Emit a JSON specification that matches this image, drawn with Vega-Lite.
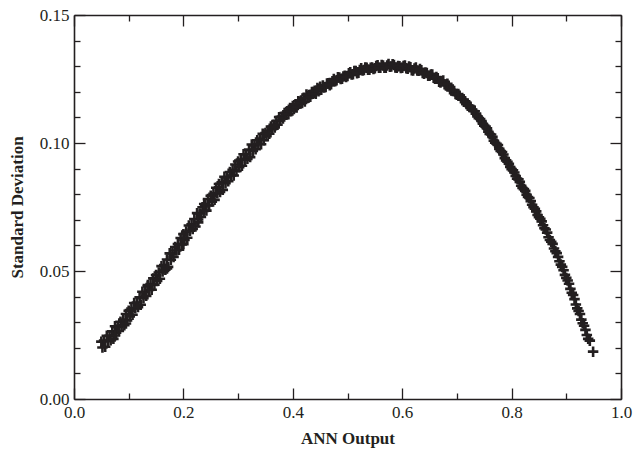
{
 "$schema": "https://vega.github.io/schema/vega-lite/v6.json",
 "width": 547, "height": 384,
 "autosize": {"type": "none"},
 "padding": {"left": 74, "top": 15, "right": 12, "bottom": 50},
 "background": "white",
 "config": {"view": {"stroke": null}, "axis": {"domainColor": "#231f20", "domainWidth": 1.6, "tickColor": "#231f20", "tickWidth": 1.3, "labelFont": "Liberation Serif", "labelFontSize": 17, "labelColor": "#231f20", "titleFont": "Liberation Serif", "titleFontSize": 17, "titleFontWeight": "bold", "titleColor": "#231f20", "grid": false, "labelOverlap": false, "labelFlush": false}},
 "data": {"values": [
{"x":0.050,"y":0.0224},{"x":0.052,"y":0.0201},{"x":0.055,"y":0.0228},{"x":0.057,"y":0.0204},{"x":0.060,"y":0.0247},{"x":0.062,"y":0.0226},{"x":0.065,"y":0.0247},{"x":0.067,"y":0.0229},{"x":0.070,"y":0.0264},{"x":0.072,"y":0.0235},{"x":0.075,"y":0.0284},{"x":0.077,"y":0.0259},{"x":0.080,"y":0.0280},{"x":0.082,"y":0.0266},{"x":0.085,"y":0.0302},{"x":0.087,"y":0.0288},{"x":0.090,"y":0.0310},{"x":0.092,"y":0.0288},{"x":0.095,"y":0.0332},{"x":0.097,"y":0.0307},
{"x":0.100,"y":0.0345},{"x":0.102,"y":0.0322},{"x":0.105,"y":0.0353},{"x":0.107,"y":0.0329},{"x":0.110,"y":0.0375},{"x":0.112,"y":0.0354},{"x":0.115,"y":0.0377},{"x":0.117,"y":0.0359},{"x":0.120,"y":0.0397},{"x":0.122,"y":0.0368},{"x":0.125,"y":0.0419},{"x":0.127,"y":0.0394},{"x":0.130,"y":0.0417},{"x":0.132,"y":0.0403},{"x":0.135,"y":0.0440},{"x":0.137,"y":0.0426},{"x":0.140,"y":0.0449},{"x":0.142,"y":0.0427},{"x":0.145,"y":0.0471},{"x":0.147,"y":0.0446},
{"x":0.150,"y":0.0484},{"x":0.152,"y":0.0461},{"x":0.155,"y":0.0494},{"x":0.157,"y":0.0470},{"x":0.160,"y":0.0519},{"x":0.162,"y":0.0498},{"x":0.165,"y":0.0523},{"x":0.167,"y":0.0505},{"x":0.170,"y":0.0545},{"x":0.172,"y":0.0516},{"x":0.175,"y":0.0569},{"x":0.177,"y":0.0544},{"x":0.180,"y":0.0569},{"x":0.182,"y":0.0555},{"x":0.185,"y":0.0594},{"x":0.187,"y":0.0580},{"x":0.190,"y":0.0605},{"x":0.192,"y":0.0583},{"x":0.195,"y":0.0629},{"x":0.197,"y":0.0604},
{"x":0.200,"y":0.0644},{"x":0.202,"y":0.0621},{"x":0.205,"y":0.0654},{"x":0.207,"y":0.0630},{"x":0.210,"y":0.0678},{"x":0.212,"y":0.0657},{"x":0.215,"y":0.0682},{"x":0.217,"y":0.0664},{"x":0.220,"y":0.0703},{"x":0.222,"y":0.0674},{"x":0.225,"y":0.0726},{"x":0.227,"y":0.0701},{"x":0.230,"y":0.0725},{"x":0.232,"y":0.0711},{"x":0.235,"y":0.0749},{"x":0.237,"y":0.0735},{"x":0.240,"y":0.0758},{"x":0.242,"y":0.0736},{"x":0.245,"y":0.0781},{"x":0.247,"y":0.0756},
{"x":0.250,"y":0.0794},{"x":0.252,"y":0.0771},{"x":0.255,"y":0.0802},{"x":0.257,"y":0.0778},{"x":0.260,"y":0.0825},{"x":0.262,"y":0.0804},{"x":0.265,"y":0.0827},{"x":0.267,"y":0.0809},{"x":0.270,"y":0.0846},{"x":0.272,"y":0.0817},{"x":0.275,"y":0.0868},{"x":0.277,"y":0.0843},{"x":0.280,"y":0.0865},{"x":0.282,"y":0.0851},{"x":0.285,"y":0.0887},{"x":0.287,"y":0.0873},{"x":0.290,"y":0.0895},{"x":0.292,"y":0.0873},{"x":0.295,"y":0.0916},{"x":0.297,"y":0.0891},
{"x":0.300,"y":0.0928},{"x":0.302,"y":0.0905},{"x":0.305,"y":0.0935},{"x":0.307,"y":0.0911},{"x":0.310,"y":0.0956},{"x":0.312,"y":0.0935},{"x":0.315,"y":0.0956},{"x":0.317,"y":0.0938},{"x":0.320,"y":0.0974},{"x":0.322,"y":0.0945},{"x":0.325,"y":0.0994},{"x":0.327,"y":0.0969},{"x":0.330,"y":0.0990},{"x":0.332,"y":0.0976},{"x":0.335,"y":0.1011},{"x":0.337,"y":0.0997},{"x":0.340,"y":0.1017},{"x":0.342,"y":0.0995},{"x":0.345,"y":0.1036},{"x":0.347,"y":0.1011},
{"x":0.350,"y":0.1039},{"x":0.352,"y":0.1027},{"x":0.355,"y":0.1048},{"x":0.357,"y":0.1036},{"x":0.360,"y":0.1064},{"x":0.362,"y":0.1054},{"x":0.365,"y":0.1071},{"x":0.367,"y":0.1061},{"x":0.370,"y":0.1086},{"x":0.372,"y":0.1071},{"x":0.375,"y":0.1101},{"x":0.377,"y":0.1088},{"x":0.380,"y":0.1103},{"x":0.382,"y":0.1096},{"x":0.385,"y":0.1117},{"x":0.387,"y":0.1110},{"x":0.390,"y":0.1124},{"x":0.392,"y":0.1112},{"x":0.395,"y":0.1137},{"x":0.397,"y":0.1124},
{"x":0.400,"y":0.1145},{"x":0.402,"y":0.1133},{"x":0.405,"y":0.1151},{"x":0.407,"y":0.1139},{"x":0.410,"y":0.1163},{"x":0.412,"y":0.1153},{"x":0.415,"y":0.1166},{"x":0.417,"y":0.1156},{"x":0.420,"y":0.1177},{"x":0.422,"y":0.1162},{"x":0.425,"y":0.1189},{"x":0.427,"y":0.1176},{"x":0.430,"y":0.1188},{"x":0.432,"y":0.1181},{"x":0.435,"y":0.1199},{"x":0.437,"y":0.1192},{"x":0.440,"y":0.1204},{"x":0.442,"y":0.1192},{"x":0.445,"y":0.1215},{"x":0.447,"y":0.1202},{"x":0.450,"y":0.1220},{"x":0.452,"y":0.1208},
{"x":0.455,"y":0.1225},{"x":0.460,"y":0.1219},{"x":0.465,"y":0.1233},{"x":0.470,"y":0.1229},{"x":0.475,"y":0.1250},{"x":0.480,"y":0.1245},{"x":0.485,"y":0.1256},{"x":0.490,"y":0.1251},{"x":0.495,"y":0.1263},{"x":0.500,"y":0.1262},
{"x":0.505,"y":0.1276},{"x":0.510,"y":0.1269},{"x":0.515,"y":0.1281},{"x":0.520,"y":0.1274},{"x":0.525,"y":0.1292},{"x":0.530,"y":0.1285},{"x":0.535,"y":0.1294},{"x":0.540,"y":0.1286},{"x":0.545,"y":0.1295},{"x":0.550,"y":0.1292},
{"x":0.555,"y":0.1304},{"x":0.560,"y":0.1294},{"x":0.565,"y":0.1303},{"x":0.570,"y":0.1294},{"x":0.575,"y":0.1309},{"x":0.580,"y":0.1299},{"x":0.585,"y":0.1305},{"x":0.590,"y":0.1294},{"x":0.595,"y":0.1300},{"x":0.600,"y":0.1294},
{"x":0.605,"y":0.1303},{"x":0.610,"y":0.1290},{"x":0.615,"y":0.1296},{"x":0.620,"y":0.1283},{"x":0.625,"y":0.1295},{"x":0.630,"y":0.1282},{"x":0.635,"y":0.1284},{"x":0.640,"y":0.1270},{"x":0.645,"y":0.1273},{"x":0.650,"y":0.1263},
{"x":0.655,"y":0.1268},{"x":0.660,"y":0.1251},{"x":0.665,"y":0.1253},{"x":0.670,"y":0.1236},{"x":0.675,"y":0.1244},{"x":0.680,"y":0.1226},{"x":0.685,"y":0.1224},{"x":0.690,"y":0.1205},{"x":0.695,"y":0.1203},{"x":0.700,"y":0.1188},
{"x":0.705,"y":0.1185},{"x":0.710,"y":0.1169},{"x":0.715,"y":0.1163},{"x":0.720,"y":0.1146},{"x":0.725,"y":0.1142},{"x":0.730,"y":0.1125},{"x":0.735,"y":0.1115},{"x":0.740,"y":0.1097},{"x":0.745,"y":0.1086},{"x":0.750,"y":0.1068},
{"x":0.755,"y":0.1057},{"x":0.760,"y":0.1035},{"x":0.765,"y":0.1024},{"x":0.770,"y":0.1001},{"x":0.775,"y":0.0992},{"x":0.780,"y":0.0969},{"x":0.785,"y":0.0955},{"x":0.790,"y":0.0932},{"x":0.795,"y":0.0919},{"x":0.800,"y":0.0898},
{"x":0.805,"y":0.0885},{"x":0.810,"y":0.0861},{"x":0.815,"y":0.0848},{"x":0.820,"y":0.0824},{"x":0.825,"y":0.0813},{"x":0.830,"y":0.0789},{"x":0.835,"y":0.0773},{"x":0.840,"y":0.0749},{"x":0.845,"y":0.0733},{"x":0.850,"y":0.0710},
{"x":0.855,"y":0.0694},{"x":0.860,"y":0.0667},{"x":0.865,"y":0.0650},{"x":0.870,"y":0.0621},{"x":0.875,"y":0.0606},{"x":0.880,"y":0.0577},{"x":0.885,"y":0.0555},{"x":0.890,"y":0.0525},{"x":0.895,"y":0.0503},{"x":0.900,"y":0.0473},
{"x":0.905,"y":0.0450},{"x":0.910,"y":0.0415},{"x":0.915,"y":0.0390},{"x":0.920,"y":0.0354},{"x":0.925,"y":0.0332},{"x":0.930,"y":0.0296},{"x":0.935,"y":0.0270},{"x":0.940,"y":0.0235},{"x":0.943,"y":0.0228},{"x":0.949,"y":0.0185},
{"x":0.4575,"y":0.1217},{"x":0.4625,"y":0.1232},{"x":0.4675,"y":0.1226},{"x":0.4725,"y":0.1241},{"x":0.4775,"y":0.1241},{"x":0.4825,"y":0.1257},{"x":0.4875,"y":0.1250},{"x":0.4925,"y":0.1260},{"x":0.4975,"y":0.1258},{"x":0.5025,"y":0.1272},
{"x":0.5075,"y":0.1268},{"x":0.5125,"y":0.1281},{"x":0.5175,"y":0.1272},{"x":0.5225,"y":0.1285},{"x":0.5275,"y":0.1283},{"x":0.5325,"y":0.1295},{"x":0.5375,"y":0.1286},{"x":0.5425,"y":0.1294},{"x":0.5475,"y":0.1289},{"x":0.5525,"y":0.1301},
{"x":0.5575,"y":0.1294},{"x":0.5625,"y":0.1305},{"x":0.5675,"y":0.1294},{"x":0.5725,"y":0.1303},{"x":0.5775,"y":0.1298},{"x":0.5825,"y":0.1308},{"x":0.5875,"y":0.1295},{"x":0.5925,"y":0.1301},{"x":0.5975,"y":0.1293},{"x":0.6025,"y":0.1301},
{"x":0.6075,"y":0.1292},{"x":0.6125,"y":0.1299},{"x":0.6175,"y":0.1284},{"x":0.6225,"y":0.1291},{"x":0.6275,"y":0.1283},{"x":0.6325,"y":0.1289},{"x":0.6375,"y":0.1273},{"x":0.6425,"y":0.1275},{"x":0.6475,"y":0.1263},{"x":0.6525,"y":0.1268},
{"x":0.6575,"y":0.1255},{"x":0.6625,"y":0.1258},{"x":0.6675,"y":0.1239},{"x":0.6725,"y":0.1241},{"x":0.6775,"y":0.1229},{"x":0.6825,"y":0.1231},{"x":0.6875,"y":0.1210},{"x":0.6925,"y":0.1207},{"x":0.6975,"y":0.1191},{"x":0.7025,"y":0.1191},
{"x":0.7075,"y":0.1175},{"x":0.7125,"y":0.1170},{"x":0.7175,"y":0.1152},{"x":0.7225,"y":0.1145},{"x":0.7275,"y":0.1130},{"x":0.7325,"y":0.1124},{"x":0.7375,"y":0.1104},{"x":0.7425,"y":0.1094},{"x":0.7475,"y":0.1075},{"x":0.7525,"y":0.1064},
{"x":0.7575,"y":0.1044},{"x":0.7625,"y":0.1033},{"x":0.7675,"y":0.1009},{"x":0.7725,"y":0.0997},{"x":0.7775,"y":0.0977},{"x":0.7825,"y":0.0965},{"x":0.7875,"y":0.0941},{"x":0.7925,"y":0.0927},{"x":0.7975,"y":0.0906},{"x":0.8025,"y":0.0893},
{"x":0.8075,"y":0.0871},{"x":0.8125,"y":0.0858},{"x":0.8175,"y":0.0833},{"x":0.8225,"y":0.0820},{"x":0.8275,"y":0.0798},{"x":0.8325,"y":0.0785},{"x":0.8375,"y":0.0759},{"x":0.8425,"y":0.0743},{"x":0.8475,"y":0.0719},{"x":0.8525,"y":0.0704},
{"x":0.8575,"y":0.0679},{"x":0.8625,"y":0.0662},{"x":0.8675,"y":0.0632},{"x":0.8725,"y":0.0614},{"x":0.8775,"y":0.0588},{"x":0.8825,"y":0.0570},{"x":0.8875,"y":0.0538},{"x":0.8925,"y":0.0516},{"x":0.8975,"y":0.0485},{"x":0.9025,"y":0.0463},
{"x":0.9075,"y":0.0430},{"x":0.9125,"y":0.0406},{"x":0.9175,"y":0.0369},{"x":0.9225,"y":0.0344},{"x":0.9275,"y":0.0310},{"x":0.9325,"y":0.0286},{"x":0.9375,"y":0.0250},
{"x":0.238,"y":0.0762},{"x":0.227,"y":0.0690},{"x":0.170,"y":0.0510},{"x":0.135,"y":0.0445},{"x":0.095,"y":0.0295},{"x":0.075,"y":0.0248},{"x":0.200,"y":0.0605},{"x":0.265,"y":0.0840}
 ]},
 "layer": [
  {"mark": {"type": "point", "shape": "M-1,0L1,0M0,-1L0,1", "filled": false, "stroke": "#231f20", "strokeWidth": 2.6, "size": 110, "opacity": 1},
   "encoding": {
    "x": {"field": "x", "type": "quantitative", "scale": {"domain": [0, 1], "nice": false, "zero": false},
      "axis": {"orient": "bottom", "title": "ANN Output", "values": [0,0.1,0.2,0.3,0.4,0.5,0.6,0.7,0.8,0.9,1],
        "labelExpr": "round(datum.value*10)%2==0 ? format(datum.value,'.1f') : ''",
        "tickSize": {"condition": {"test": "round(datum.value*10)%2==0", "value": -11}, "value": -6},
        "labelPadding": 16, "titlePadding": 5}},
    "y": {"field": "y", "type": "quantitative", "scale": {"domain": [0, 0.15], "nice": false, "zero": false},
      "axis": {"orient": "left", "title": "Standard Deviation", "values": [0,0.01,0.02,0.03,0.04,0.05,0.06,0.07,0.08,0.09,0.1,0.11,0.12,0.13,0.14,0.15],
        "labelExpr": "round(datum.value*100)%5==0 ? format(datum.value,'.2f') : ''",
        "tickSize": {"condition": {"test": "round(datum.value*100)%5==0", "value": -11}, "value": -6},
        "labelPadding": 16, "titlePadding": 13}}
   }},
  {"mark": {"type": "point", "opacity": 0},
   "encoding": {
    "x": {"field": "x", "type": "quantitative", "scale": {"domain": [0, 1], "nice": false, "zero": false},
      "axis": {"orient": "top", "title": null, "labels": false, "values": [0,0.1,0.2,0.3,0.4,0.5,0.6,0.7,0.8,0.9,1],
        "tickSize": {"condition": {"test": "round(datum.value*10)%2==0", "value": -11}, "value": -6}}},
    "y": {"field": "y", "type": "quantitative", "scale": {"domain": [0, 0.15], "nice": false, "zero": false},
      "axis": {"orient": "right", "title": null, "labels": false, "values": [0,0.01,0.02,0.03,0.04,0.05,0.06,0.07,0.08,0.09,0.1,0.11,0.12,0.13,0.14,0.15],
        "tickSize": {"condition": {"test": "round(datum.value*100)%5==0", "value": -11}, "value": -6}}}
   }}
 ],
 "resolve": {"axis": {"x": "independent", "y": "independent"}}
}
